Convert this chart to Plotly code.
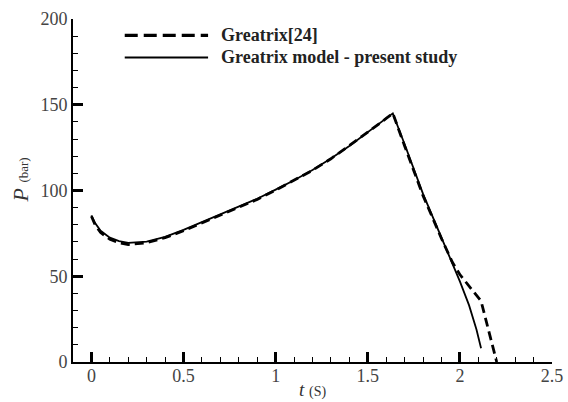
import plotly.graph_objects as go

# Greatrix [24] (dashed)
t_ref = [0.0, 0.02, 0.05, 0.1, 0.15, 0.2, 0.3, 0.4, 0.5, 0.6, 0.7, 0.8, 0.9, 1.0, 1.1, 1.2, 1.3, 1.4, 1.5, 1.6, 1.636,
         1.7, 1.8, 1.9, 1.96, 2.0, 2.05, 2.1, 2.115, 2.2]
p_ref = [85.0, 80.0, 75.5, 71.5, 69.5, 68.5, 69.5, 72.5, 76.5, 81.0, 85.5, 90.0, 94.8, 100.2, 105.8, 111.8, 118.5, 126.0, 134.0, 142.0, 145.0,
         126.0, 97.0, 72.0, 58.0, 51.0, 44.0, 37.5, 35.5, 0.0]

# Greatrix model - present study (solid)
t_model = [0.0, 0.02, 0.05, 0.1, 0.15, 0.2, 0.3, 0.4, 0.5, 0.6, 0.7, 0.8, 0.9, 1.0, 1.1, 1.2, 1.3, 1.4, 1.5, 1.6, 1.636,
           1.7, 1.8, 1.9, 1.96, 2.0, 2.05, 2.09, 2.115]
p_model = [85.5, 81.0, 76.5, 72.5, 70.5, 69.5, 70.2, 73.0, 77.0, 81.5, 86.0, 90.5, 95.2, 100.5, 106.0, 112.0, 118.7, 126.0, 134.0, 142.0, 145.0,
           127.0, 98.0, 72.5, 57.5, 47.0, 33.0, 19.0, 8.0]

x_ticks = [0, 0.5, 1, 1.5, 2, 2.5]
x_labels = ["0", "0.5", "1", "1.5", "2", "2.5"]
y_ticks = [0, 50, 100, 150, 200]
y_labels = ["0", "50", "100", "150", "200"]

legend_names = ["Greatrix[24]", "Greatrix model - present study"]

serif = "Liberation Serif"

fig = go.Figure()
fig.add_trace(go.Scatter(x=t_ref, y=p_ref, mode="lines", name=legend_names[0],
                         line=dict(color="black", width=2.8, dash="9px,5px"), showlegend=False))
fig.add_trace(go.Scatter(x=t_model, y=p_model, mode="lines", name=legend_names[1],
                         line=dict(color="black", width=1.8), showlegend=False))

# legend drawn manually (long line samples as in the reference)
fig.add_shape(type="line", xref="paper", yref="paper", x0=0.108, x1=0.282, y0=0.952, y1=0.952,
              line=dict(color="black", width=3.2, dash="13px,6px"))
fig.add_shape(type="line", xref="paper", yref="paper", x0=0.108, x1=0.282, y0=0.888, y1=0.888,
              line=dict(color="black", width=2))
for name, yy in zip(legend_names, [0.952, 0.888]):
    fig.add_annotation(text="<b>%s</b>" % name, xref="paper", yref="paper", x=0.305, y=yy,
                       xanchor="left", yanchor="middle", showarrow=False,
                       font=dict(family=serif, size=18, color="#222"))

axis_common = dict(showgrid=False, zeroline=False, showline=True, linecolor="black", linewidth=2,
                   ticks="inside", ticklen=10, tickwidth=2.5, tickcolor="black", automargin=False,
                   tickfont=dict(family=serif, size=18, color="#444"), mirror=False)

fig.update_xaxes(range=[-0.1, 2.5], tickvals=x_ticks, ticktext=x_labels, ticklabelstandoff=-4,
                 minor=dict(ticks="inside", ticklen=5, tickwidth=1.2, tickcolor="black", dtick=0.1, tick0=0),
                 **axis_common)
fig.update_yaxes(range=[0, 200], tickvals=y_ticks, ticktext=y_labels,
                 minor=dict(ticks="inside", ticklen=5, tickwidth=1.2, tickcolor="black", dtick=10, tick0=0),
                 **axis_common)

# axis titles
fig.add_annotation(text="<i>t</i> <span style='font-size:14px'>(S)</span>", xref="paper", yref="paper",
                   x=0.5, y=-0.08, xanchor="center", yanchor="middle", showarrow=False,
                   font=dict(family=serif, size=19, color="#333"))
fig.add_annotation(text="<i>P</i> <span style='font-size:13px'>(bar)</span>", xref="paper", yref="paper",
                   x=-0.11, y=0.53, xanchor="center", yanchor="middle", textangle=-90, showarrow=False,
                   font=dict(family=serif, size=22, color="#333"))

fig.update_layout(width=568, height=402, margin=dict(l=73, r=16, t=19, b=40),
                  paper_bgcolor="white", plot_bgcolor="white", showlegend=False)

fig.write_html("out.html")
